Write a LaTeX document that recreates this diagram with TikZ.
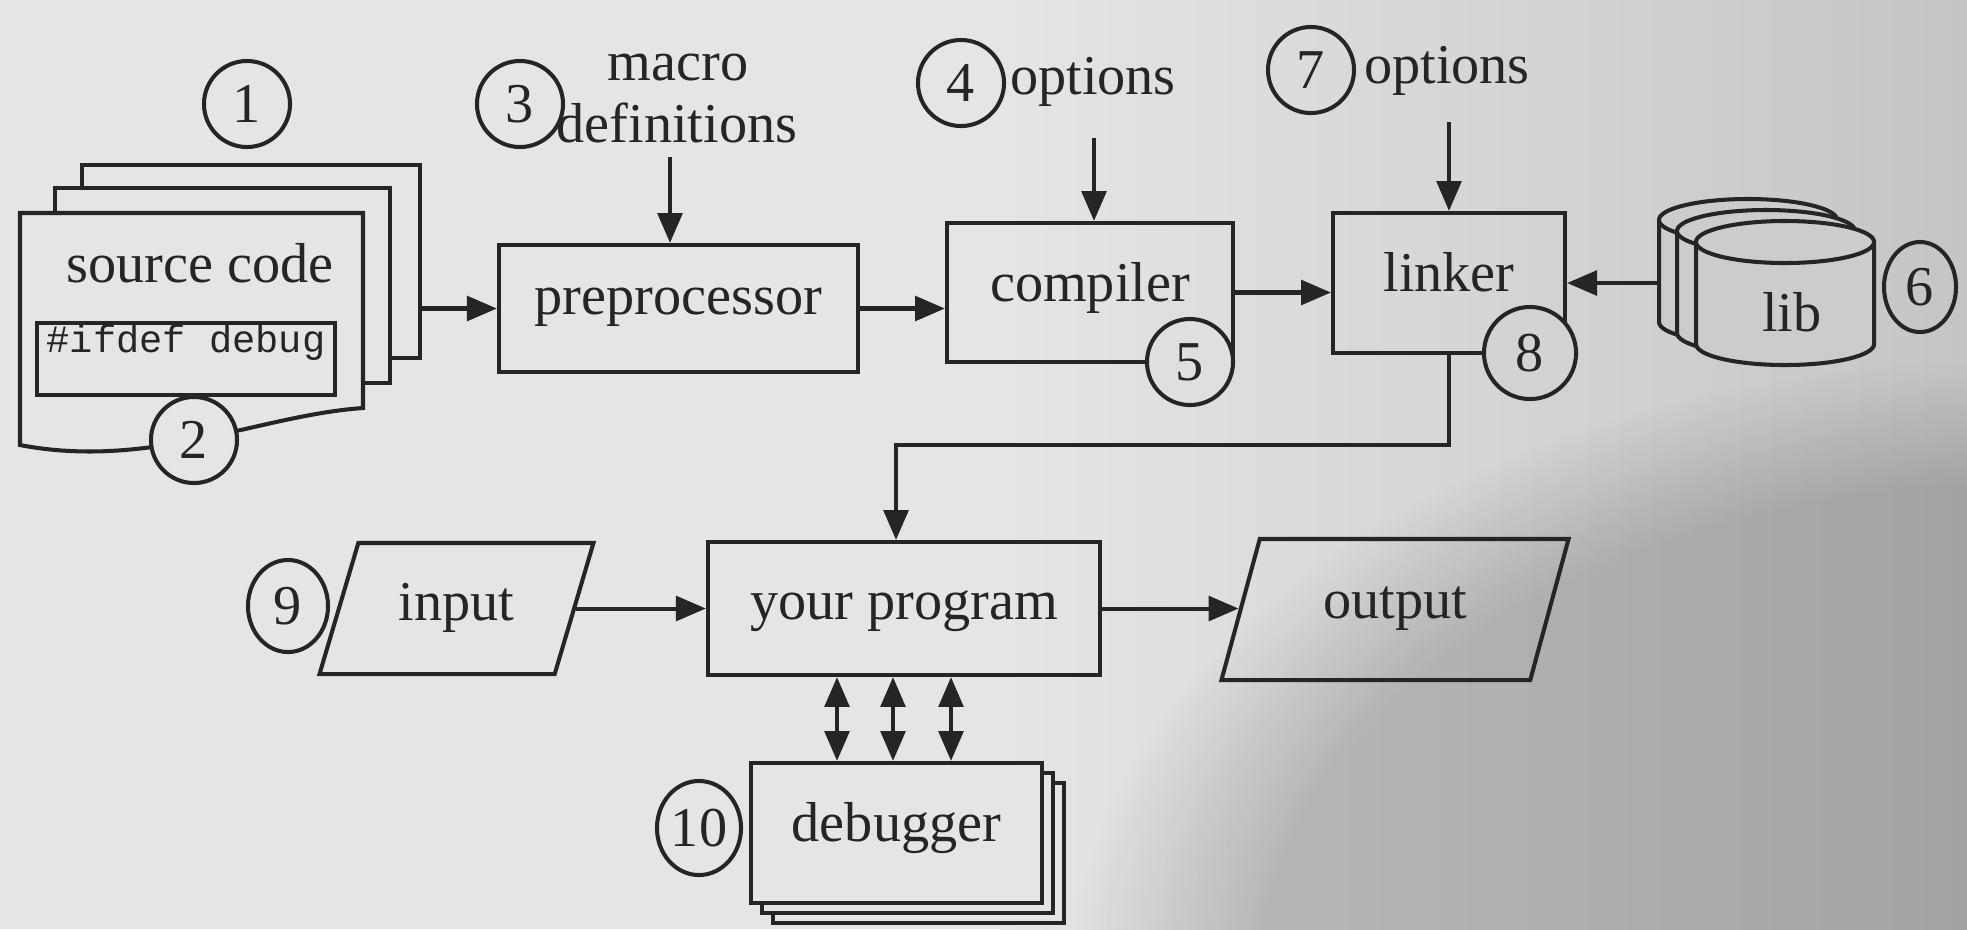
\documentclass[tikz,border=0pt]{standalone}
\usepackage{fontspec}
\setmainfont{Liberation Serif}
\setmonofont{Liberation Mono}
\usetikzlibrary{arrows.meta,shapes.geometric,fadings}

\definecolor{paper}{RGB}{230,228,229}
\definecolor{paperedge}{RGB}{198,196,199}
\definecolor{ink}{RGB}{38,36,38}

% one library cylinder: centre x, top y, bottom y
\newcommand\drawcyl[3]{%
  \fill[paper!22!paperedge] (#1-89,#2) rectangle (#1+89,#3);
  \fill[paper!22!paperedge] (#1,#3) ellipse [x radius=0.89cm, y radius=0.21cm];
  \draw[line] (#1-89,#2) -- (#1-89,#3)
     arc[start angle=180, end angle=360, x radius=0.89cm, y radius=0.21cm] -- (#1+89,#2);
  \filldraw[line, fill=paper!22!paperedge] (#1,#2) ellipse [x radius=0.89cm, y radius=0.21cm];
}

\begin{document}
\begin{tikzpicture}[x=0.01cm, y=-0.01cm,
  every node/.style={font=\fontsize{16}{17.6}\selectfont, text=ink},
  line/.style={draw=ink, line width=1.15pt},
  tip/.tip={Triangle[length=8.5pt, width=7pt]},
  arr/.style={line, -tip},
  darr/.style={line, tip-tip},
  box/.style={line, rectangle, inner sep=0pt, text depth=6pt},
  sheet/.style={line, rectangle, inner sep=0pt, fill=paper},
  num/.style={line, circle, inner sep=0pt, minimum size=0.86cm},
  numv/.style={line, ellipse, inner sep=0pt},
  io/.style={line, trapezium, trapezium left angle=66, trapezium right angle=114,
             trapezium stretches=true, inner sep=0pt, text depth=4pt},
]
\useasboundingbox (0,0) rectangle (1967,929);

% paper, darkening towards the right and into the lower right corner
\fill[paper] (0,0) rectangle (1967,929);
\shade[left color=paper, right color=paperedge] (1000,0) rectangle (1967,929);
\fill[black, opacity=0.17, path fading=circle with fuzzy edge 20 percent]
  (2020,990) ellipse [x radius=9.5cm, y radius=6.3cm];

% ---------- source code stack ----------
\node[sheet, minimum width=3.38cm, minimum height=1.93cm] (src3) at (251,261.5) {};
\node[sheet, minimum width=3.35cm, minimum height=1.95cm] (src2) at (222.5,285.5) {};
\filldraw[line, fill=paper] (20,213) -- (363,213) -- (363,408)
   .. controls (260,415) and (150,470) .. (20,445) -- cycle;
\node (src) at (200,263) {source code};
\node[line, rectangle, inner sep=0pt, minimum width=2.98cm,
      text height=0.29cm, text depth=0.43cm] (ifd) at (186,359)
      {\fontsize{11}{12}\selectfont\ttfamily \#ifdef debug};
\node[num] (n1) at (247,104) {1};
\node[num, fill=paper] (n2) at (194,440) {2};

% ---------- top row ----------
\node[box, text depth=4pt, minimum width=3.59cm, minimum height=1.27cm] (pre) at (678.5,308.5) {preprocessor};
\node[box, minimum width=2.86cm, minimum height=1.39cm] (comp) at (1090,292.5) {compiler};
\node[box, minimum width=2.32cm, minimum height=1.40cm] (link) at (1449,283) {linker};

\node[anchor=base] (macro) at (678,80) {macro};
\node[anchor=base] (defs) at (677,142) {definitions};
\node[num] (n3) at (520,104) {3};
\node[anchor=base] (opt4) at (1093,94) {options};
\node[num] (n4) at (961,83) {4};
\node[anchor=base] (opt7) at (1447,83) {options};
\node[num] (n7) at (1311,70) {7};

% ---------- library ----------
\drawcyl{1748}{220}{322}
\drawcyl{1766}{231}{333}
\drawcyl{1785}{242}{344}
\node (lib) at (1792,312) {lib};
\node[numv, minimum width=0.72cm, minimum height=0.9cm] (n6) at (1920,287) {6};

% ---------- bottom row ----------
\node[io, minimum width=2.75cm, minimum height=1.31cm] (in) at (456.5,608.5) {input};
\node[box, text depth=2pt, minimum width=3.92cm, minimum height=1.33cm] (prog) at (904,608.5) {your program};
\node[io, minimum width=3.48cm, minimum height=1.41cm] (out) at (1395,609.5) {output};
\node[numv, minimum width=0.8cm, minimum height=0.92cm] (n9) at (288,606) {9};

\node[sheet, minimum width=2.91cm, minimum height=1.40cm] (dbg3) at (918.5,853) {};
\node[sheet, minimum width=2.91cm, minimum height=1.40cm] (dbg2) at (907.5,843) {};
\node[sheet, box, minimum width=2.91cm, minimum height=1.40cm] (dbg) at (896.5,833) {debugger};
\node[numv, minimum width=0.84cm, minimum height=0.94cm] (n10) at (699,828) {10};

% ---------- connectors ----------
\coordinate (m0) at (670,157);
\coordinate (o4) at (1094,138);
\coordinate (o7) at (1449,122);
\coordinate (libarr) at (1659,283);
\coordinate (bend) at (896,445);
\coordinate (d1) at (837,0);
\coordinate (d2) at (893,0);
\coordinate (d3) at (951,0);

\draw[arr] (src3.east |- pre.west) -- (pre.west);
\draw[arr] (m0) -- (m0 |- pre.north);
\draw[arr] (pre.east) -- (pre.east -| comp.west);
\draw[arr] (o4) -- (o4 |- comp.north);
\draw[arr] (comp.east) -- (comp.east -| link.west);
\draw[arr] (o7) -- (o7 |- link.north);
\draw[arr] (libarr) -- (libarr -| link.east);
\draw[arr] (link.south) |- (bend) -- (bend |- prog.north);
\draw[arr] (in.east) -- (in.east -| prog.west);
\draw[arr] (prog.east) -- (prog.east -| out.west);
\draw[darr] (prog.south -| d1) -- (dbg.north -| d1);
\draw[darr] (prog.south -| d2) -- (dbg.north -| d2);
\draw[darr] (prog.south -| d3) -- (dbg.north -| d3);

% numbers sitting on box corners are drawn last
\node[num, fill=paper!80!paperedge] (n5) at (1190,362) {5};
\node[num, minimum size=0.92cm, fill=paper!45!paperedge] (n8) at (1530,353) {8};
\end{tikzpicture}
\end{document}
